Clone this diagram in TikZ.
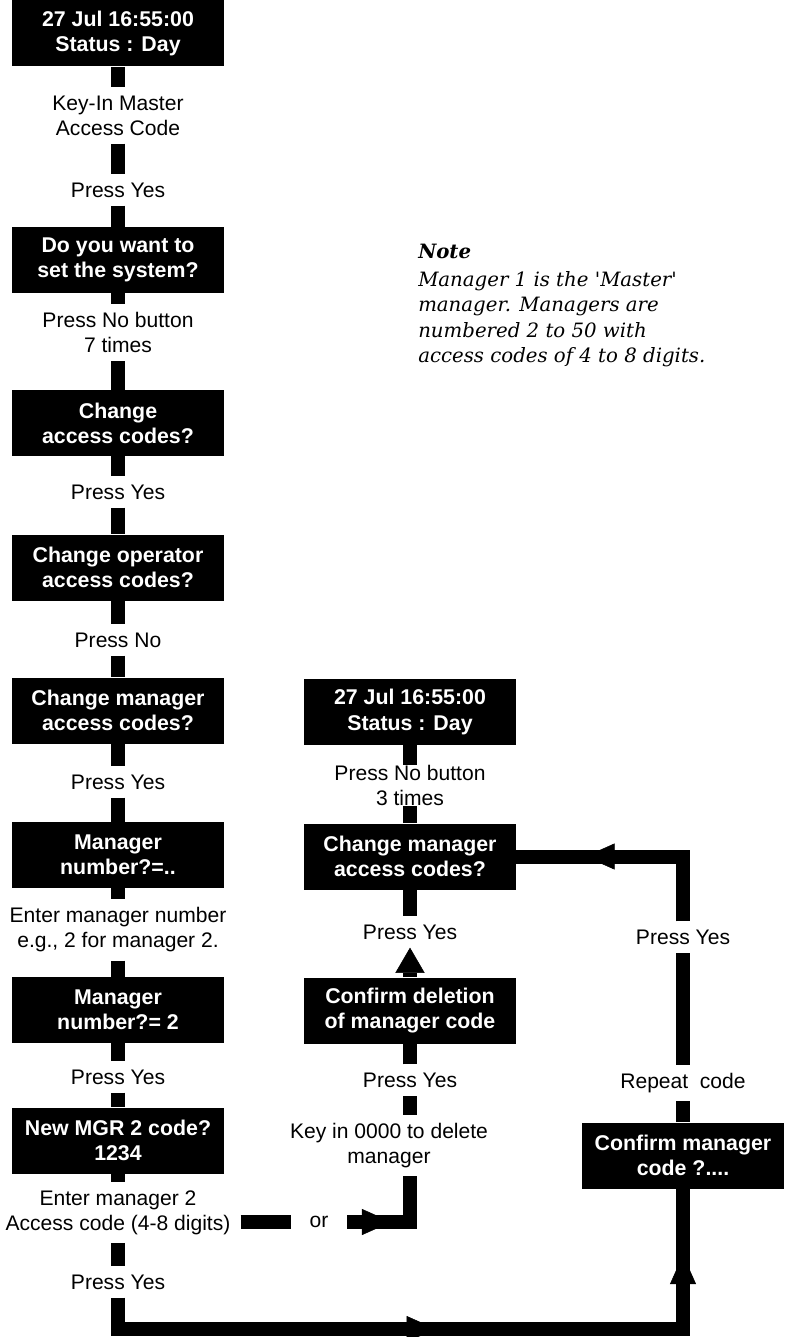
\documentclass[tikz,border=0pt]{standalone}
\usepackage{fontspec}
\setmainfont{Liberation Sans}
\newfontfamily\notefont{DejaVu Serif}
\usepackage{tikz}
\usetikzlibrary{arrows.meta,positioning,decorations.markings}
\tikzset{
  screen/.style={fill=black, text=white, align=center, inner sep=0pt,
                 minimum width=159pt, minimum height=49.5pt,
                 font=\fontsize{16}{18.8}\selectfont\bfseries},
  say/.style={align=center, inner xsep=7.5pt, inner ysep=6pt,
              font=\fontsize{15.8}{18.8}\selectfont},
  link/.style={line width=10.5pt},
  midtip/.style={postaction={decorate, decoration={markings,
                 mark=at position #1 with {\arrow{>}}}}},
}

\begin{document}
\begin{tikzpicture}[x=0.75pt, y=-0.75pt,
  >={Triangle[length=22pt, width=19.5pt, line width=0.4pt]}]
  \useasboundingbox (0,0) rectangle (792,1337);
  % main column
  \node[screen] (clock) at (118,33.5) {27 Jul 16:55:00\\Status : Day};
  \node[say] (master) at (118,115.5) {Key-In Master\\Access Code};
  \node[say] (yes1) at (118,190) {Press Yes};
  \node[screen] (setq) at (118,260) {Do you want to\\set the system?};
  \node[say] (no7) at (118,332.5) {Press No button\\7 times};
  \node[screen] (codes) at (118,423) {Change\\access codes?};
  \node[say] (yes2) at (118,492) {Press Yes};
  \node[screen] (oper) at (118,567.5) {Change operator\\access codes?};
  \node[say] (no1) at (118,640) {Press No};
  \node[screen] (mgr) at (118,710.5) {Change manager\\access codes?};
  \node[say] (yes3) at (118,782) {Press Yes};
  \node[screen] (num) at (118,855) {Manager\\number?=..};
  \node[say] (enter) at (118,930) {Enter manager number\\e.g., 2 for manager 2.};
  \node[screen] (num2) at (118,1010) {Manager\\number?= 2};
  \node[say] (yes4) at (118,1077) {Press Yes};
  \node[screen] (newc) at (118,1140.5) {New MGR 2 code?\\1234};
  \node[say] (digits) at (118,1212.5) {Enter manager 2\\Access code (4-8 digits)};
  \node[say] (yes5) at (118,1282) {Press Yes};
  \coordinate (low) at (118,1329);
  % delete column
  \node[screen] (clockb) at (410,712) {27 Jul 16:55:00\\Status : Day};
  \node[say, inner ysep=0pt] (no3) at (410,785.5) {Press No button\\3 times};
  \node[screen] (mgrb) at (410,856.5) {Change manager\\access codes?};
  \node[say] (yes6) at (410,932) {Press Yes};
  \node[screen] (delq) at (410,1010.5) {Confirm deletion\\of manager code};
  \node[say] (yes7) at (410,1080) {Press Yes};
  \node[say] (zero) at (389,1145.5) {Key in 0000 to delete\\manager};
  \node[say, inner xsep=14pt] (or) at (319,1222) {or};
  % repeat column
  \node[say] (yes8) at (683,937) {Press Yes};
  \node[say] (again) at (683,1083) {Repeat~ code};
  \node[screen, minimum width=151.5pt] (confirm) at (683,1155.5) {Confirm manager\\code ?....};
  \node[anchor=north west, align=left, inner sep=0pt,
        font=\notefont\itshape\fontsize{14.8}{19}\selectfont] (note) at (418,244)
    {\textbf{Note}\\[2pt]Manager 1 is the 'Master'\\manager. Managers are\\numbered 2 to 50 with\\access codes of 4 to 8 digits.};

  \draw[link] (clock)--(master); \draw[link] (master)--(yes1); \draw[link] (yes1)--(setq);
  \draw[link] (setq)--(no7); \draw[link] (no7)--(codes); \draw[link] (codes)--(yes2);
  \draw[link] (yes2)--(oper); \draw[link] (oper)--(no1); \draw[link] (no1)--(mgr);
  \draw[link] (mgr)--(yes3); \draw[link] (yes3)--(num); \draw[link] (num)--(enter);
  \draw[link] (enter)--(num2); \draw[link] (num2)--(yes4); \draw[link] (yes4)--(newc);
  \draw[link] (newc)--(digits); \draw[link] (digits)--(yes5);
  \draw[link] (clockb)--(no3); \draw[link] (no3)--(mgrb); \draw[link] (mgrb)--(yes6);
  \draw[link, -{Triangle[length=19pt, width=22pt, line width=0.4pt]}] (delq)--(yes6);
  \draw[link] (yes7)--(delq); \draw[link] (zero.north -| yes7)--(yes7);
  \draw[link] (digits.east |- or)--(or);
  \draw[link, midtip=33pt] (or) -| (zero.south -| yes7);
  \draw[link, midtip=262pt, midtip=503pt] (yes5)--(low) -| (confirm);
  \draw[link] (confirm)--(again); \draw[link] (again)--(yes8);
  \draw[link, midtip=122pt] (yes8) |- (mgrb);
\end{tikzpicture}
\end{document}
